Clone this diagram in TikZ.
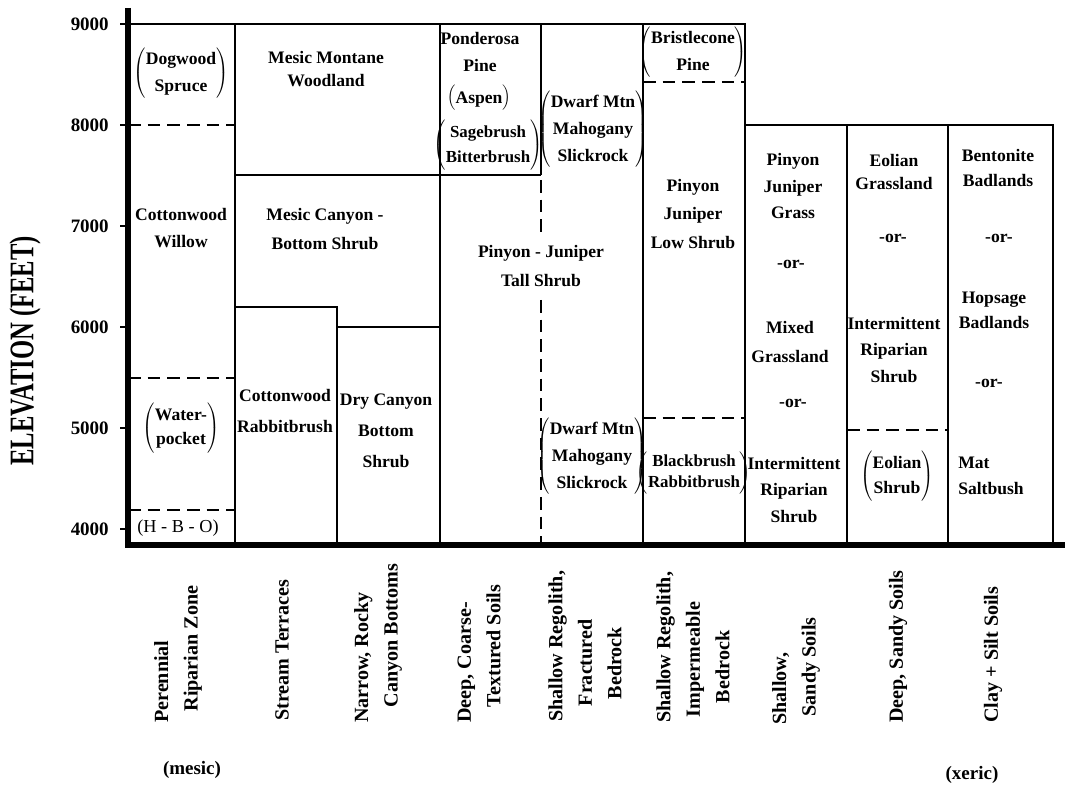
\documentclass[tikz,border=0pt]{standalone}
\usepackage{fontspec}
\setmainfont{Liberation Serif}
\usepackage{graphicx}

% two or three names held in one pair of brackets
\newcommand{\brk}[1]{$\left(\begin{tabular}{@{}c@{}}#1\end{tabular}\right)$}

\begin{document}
\begin{tikzpicture}[x=0.025cm, y=-0.025cm,
    box/.style={line width=1.2pt},
    zoneline/.style={line width=1.6pt, dash pattern=on 9pt off 5pt},
    axisline/.style={line width=4pt},
    veg/.style={align=center, inner sep=0pt, font=\fontsize{12.5}{19}\selectfont\bfseries},
    soil/.style={rotate=90, anchor=west, align=left, inner sep=0pt, font=\fontsize{14.3}{21}\selectfont\bfseries},
    elev/.style={anchor=east, inner sep=0pt, font=\fontsize{13.5}{16}\selectfont\bfseries}]

    \useasboundingbox (0, 0) rectangle (1065, 787);

    % Boxes (9000 = 24, 8000 = 125, 7000 = 226, 6000 = 327, 5000 = 428, 4000 = 529)
    \draw[box] (128, 24) -- (745, 24) -- (745, 545);
    \draw[box] (235, 24) -- (235, 545);
    \draw[box] (440, 24) -- (440, 545);
    \draw[box] (541, 24) -- (541, 175);
    \draw[box] (643, 24) -- (643, 545);
    \draw[box] (235, 175) -- (541, 175);
    \draw[box] (235, 307) -- (337, 307) -- (337, 545);
    \draw[box] (337, 327) -- (440, 327);
    \draw[box] (745, 125) -- (1053, 125) -- (1053, 545);
    \draw[box] (847, 125) -- (847, 545);
    \draw[box] (948, 125) -- (948, 545);

    % Dashed zone limits
    \draw[zoneline] (128, 125) -- (235, 125);
    \draw[zoneline] (128, 378) -- (235, 378);
    \draw[zoneline] (128, 510) -- (235, 510);
    \draw[zoneline] (643, 82) -- (745, 82);
    \draw[zoneline] (643, 418) -- (745, 418);
    \draw[zoneline] (847, 430) -- (948, 430);
    \draw[zoneline] (541, 180) -- (541, 232);
    \draw[zoneline] (541, 300) -- (541, 545);

    % Axes
    \draw[axisline] (128, 8) -- (128, 545) -- (1065, 545);
    \draw[line width=1.6pt] (120, 24) -- (128, 24);
    \draw[line width=1.6pt] (120, 125) -- (128, 125);
    \draw[line width=1.6pt] (120, 226) -- (128, 226);
    \draw[line width=1.6pt] (120, 327) -- (128, 327);
    \draw[line width=1.6pt] (120, 428) -- (128, 428);
    \draw[line width=1.6pt] (120, 529) -- (128, 529);

    \node[elev] (e9000) at (109, 24) {9000};
    \node[elev] (e8000) at (109, 125) {8000};
    \node[elev] (e7000) at (109, 226) {7000};
    \node[elev] (e6000) at (109, 327) {6000};
    \node[elev] (e5000) at (109, 428) {5000};
    \node[elev] (e4000) at (109, 529) {4000};
    \node[rotate=90, font=\fontsize{17.5}{20}\selectfont\bfseries] (elevation) at (25, 351) {\scalebox{1}[1.4]{ELEVATION (FEET)}};

    % Vegetation
    \node[veg] (dogwood) at (181, 73) {\brk{Dogwood\\Spruce}};
    \node[veg] (willow) at (181, 228) {Cottonwood\\Willow};
    \node[veg, font=\fontsize{12.5}{17}\selectfont\bfseries] (waterpocket) at (181, 428) {\brk{Water-\\pocket}};
    \node[veg, font=\fontsize{13}{15}\selectfont] (hbo) at (178, 528) {(H - B - O)};

    \node[veg, font=\fontsize{12.5}{16}\selectfont\bfseries] (montane) at (326, 69) {Mesic Montane\\Woodland};
    \node[veg, font=\fontsize{12.5}{20}\selectfont\bfseries] (canyonshrub) at (325, 229) {Mesic Canyon -\\Bottom Shrub};
    \node[veg, font=\fontsize{12.5}{22.5}\selectfont\bfseries] (rabbitbrush) at (285, 411) {Cottonwood\\Rabbitbrush};
    \node[veg, font=\fontsize{12.5}{22}\selectfont\bfseries] (drycanyon) at (386, 431) {Dry Canyon\\Bottom\\Shrub};

    \node[veg] (ponderosa) at (480, 52) {Ponderosa\\Pine};
    \node[veg] (aspen) at (479, 98) {\brk{Aspen}};
    \node[veg, font=\fontsize{12}{17.5}\selectfont\bfseries] (sagebrush) at (488, 145) {\brk{Sagebrush\\Bitterbrush}};
    \node[veg, font=\fontsize{12.5}{20}\selectfont\bfseries] (tallshrub) at (541, 266) {Pinyon - Juniper\\Tall Shrub};

    \node[veg] (mahoganyhigh) at (593, 129) {\brk{Dwarf Mtn\\Mahogany\\Slickrock}};
    \node[veg] (mahoganylow) at (592, 456) {\brk{Dwarf Mtn\\Mahogany\\Slickrock}};

    \node[veg] (bristlecone) at (693, 52) {\brk{Bristlecone\\Pine}};
    \node[veg, font=\fontsize{12.5}{20}\selectfont\bfseries] (lowshrub) at (693, 214) {Pinyon\\Juniper\\Low Shrub};
    \node[veg, font=\fontsize{12}{14.5}\selectfont\bfseries] (blackbrush) at (694, 473) {\brk{Blackbrush\\Rabbitbrush}};

    \node[veg] (pjgrass) at (793, 186) {Pinyon\\Juniper\\Grass};
    \node[veg] (or71) at (791, 264) {-or-};
    \node[veg, font=\fontsize{12.5}{20}\selectfont\bfseries] (mixedgrass) at (790, 342) {Mixed\\Grassland};
    \node[veg] (or72) at (793, 403) {-or-};
    \node[veg] (riparian7) at (794, 490) {Intermittent\\Riparian\\Shrub};

    \node[veg, font=\fontsize{12.5}{16.5}\selectfont\bfseries] (eoliangrass) at (894, 172) {Eolian\\Grassland};
    \node[veg] (or81) at (893, 238) {-or-};
    \node[veg] (riparian8) at (894, 350) {Intermittent\\Riparian\\Shrub};
    \node[veg, font=\fontsize{12.5}{18}\selectfont\bfseries] (eolianshrub) at (897, 476) {\brk{Eolian\\Shrub}};

    \node[veg, font=\fontsize{12.5}{18}\selectfont\bfseries] (bentonite) at (998, 168) {Bentonite\\Badlands};
    \node[veg] (or91) at (999, 238) {-or-};
    \node[veg, font=\fontsize{12.5}{18}\selectfont\bfseries] (hopsage) at (994, 310) {Hopsage\\Badlands};
    \node[veg] (or92) at (989, 383) {-or-};
    \node[veg, align=left, font=\fontsize{12.5}{18}\selectfont\bfseries] (saltbush) at (991, 476) {Mat\\Saltbush};

    % Soils
    \node[soil] (riparianzone) at (178, 723) {Perennial\\\hspace*{8pt}Riparian Zone};
    \node[soil] (terraces) at (282, 721) {Stream Terraces};
    \node[soil] (canyonbottoms) at (378, 723) {Narrow, Rocky\\\hspace*{11pt}Canyon Bottoms};
    \node[soil] (coarse) at (479, 723) {Deep, Coarse-\\\hspace*{11pt}Textured Soils};
    \node[soil] (fractured) at (585, 722) {Shallow Regolith,\\\hspace*{11pt}Fractured\\\hspace*{16pt}Bedrock};
    \node[soil] (impermeable) at (693, 723) {Shallow Regolith,\\\hspace*{4pt}Impermeable\\\hspace*{14pt}Bedrock};
    \node[soil] (shallowsandy) at (796, 725) {Shallow,\\\hspace*{6pt}Sandy Soils};
    \node[soil] (deepsandy) at (898, 723) {Deep, Sandy Soils};
    \node[soil] (claysilt) at (993, 723) {Clay + Silt Soils};

    \node[font=\fontsize{13.5}{16}\selectfont\bfseries] (mesic) at (192, 770) {(mesic)};
    \node[font=\fontsize{13.5}{16}\selectfont\bfseries] (xeric) at (972, 775) {(xeric)};

\end{tikzpicture}
\end{document}
